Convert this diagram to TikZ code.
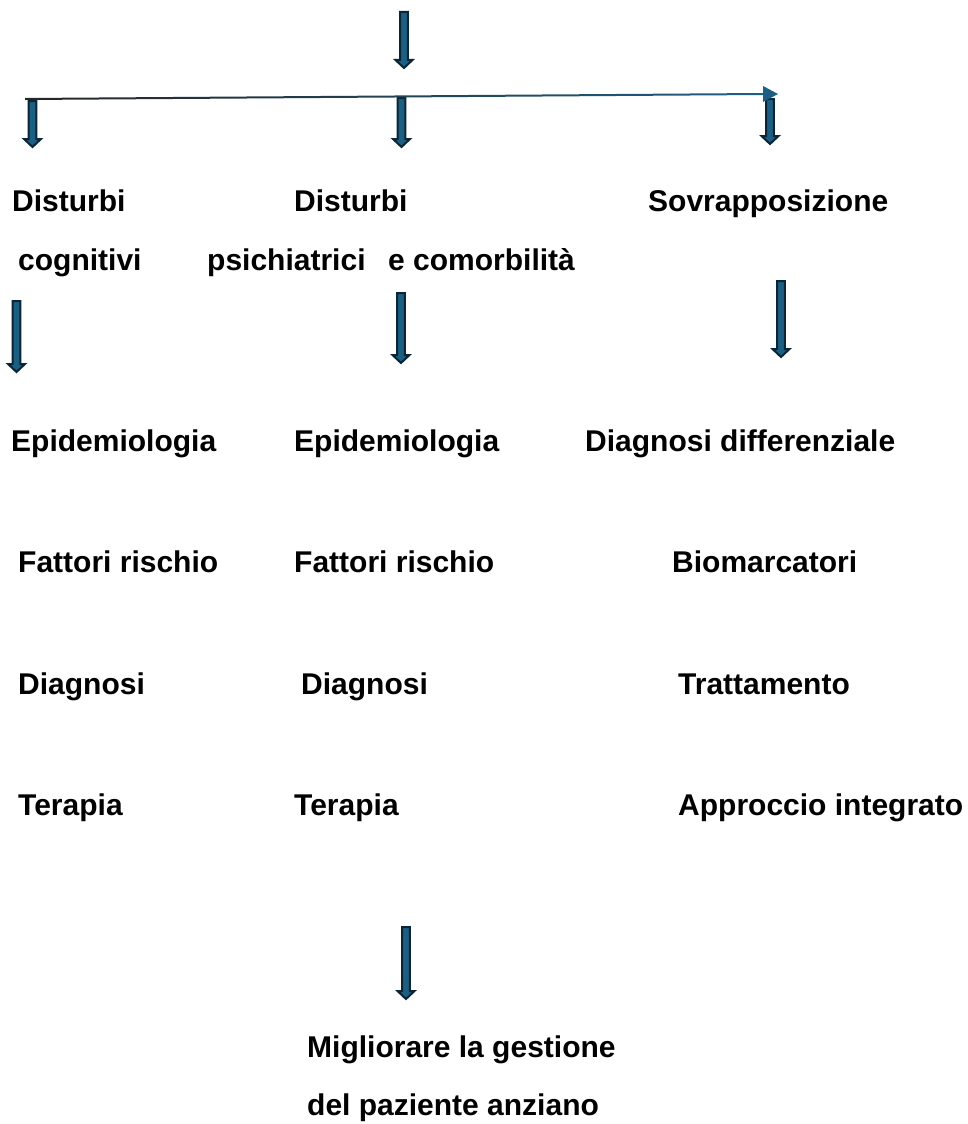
\documentclass[tikz,border=0pt]{standalone}
\usepackage{fontspec}
\setmainfont{Liberation Sans}
\usetikzlibrary{calc}
\definecolor{arrfill}{HTML}{1D5F82}
\definecolor{arrline}{HTML}{0A2536}
\definecolor{hline}{HTML}{1E5F85}
\tikzset{
  lbl/.style={anchor=base west, inner sep=0pt, font=\bfseries\fontsize{30}{32}\selectfont, text=black},
  barrowstyle/.style={fill=arrfill, draw=arrline, line width=2pt, line join=miter},
}
\newcommand{\barrow}[2]{%
  \draw[barrowstyle] ($(#1)+(-3.8,0)$) -- ($(#1)+(3.8,0)$) -- ($(#2)+(3.8,-8)$) -- ($(#2)+(8.5,-8)$) -- (#2) -- ($(#2)+(-8.5,-8)$) -- ($(#2)+(-3.8,-8)$) -- cycle;}
\begin{document}
\begin{tikzpicture}[x=1pt,y=-1pt]
\useasboundingbox (0,0) rectangle (968,1124);
% coordinates
\coordinate (t0s) at (404,12);  \coordinate (t0e) at (404,68);
\coordinate (hl) at (25,99);    \coordinate (hr) at (778,94);
\coordinate (a1s) at (32.5,101); \coordinate (a1e) at (32.5,147);
\coordinate (a2s) at (401.5,98); \coordinate (a2e) at (401.5,147);
\coordinate (a3s) at (770,99);   \coordinate (a3e) at (770,144);
\coordinate (b1s) at (16.5,301); \coordinate (b1e) at (16.5,372);
\coordinate (b2s) at (401,293);  \coordinate (b2e) at (401,363);
\coordinate (b3s) at (781,281);  \coordinate (b3e) at (781,357);
\coordinate (cs) at (406,927);   \coordinate (ce) at (406,999);

% text
\node[lbl] (c1r1) at (12,211) {Disturbi};
\node[lbl] (c1r2) at (18,270) {cognitivi};
\node[lbl] (c2r1) at (294,211) {Disturbi};
\node[lbl] (c2r2) at (207,270) {psichiatrici};
\node[lbl] (c3r2) at (388,270) {e comorbilità};
\node[lbl] (c3r1) at (648,211) {Sovrapposizione};

\node[lbl] (e1) at (11,451) {Epidemiologia};
\node[lbl] (e2) at (294,451) {Epidemiologia};
\node[lbl] (e3) at (585,451) {Diagnosi differenziale};

\node[lbl] (f1) at (18,572) {Fattori rischio};
\node[lbl] (f2) at (294,572) {Fattori rischio};
\node[lbl] (f3) at (672,572) {Biomarcatori};

\node[lbl] (d1) at (18,694) {Diagnosi};
\node[lbl] (d2) at (301,694) {Diagnosi};
\node[lbl] (d3) at (678,694) {Trattamento};

\node[lbl] (g1) at (18,815) {Terapia};
\node[lbl] (g2) at (294,815) {Terapia};
\node[lbl] (g3) at (678,815) {Approccio integrato};

\node[lbl] (m1) at (307,1057) {Migliorare la gestione};
\node[lbl] (m2) at (307,1115) {del paziente anziano};

% arrows
\barrow{t0s}{t0e}
\barrow{a1s}{a1e}
\barrow{a2s}{a2e}
\barrow{a3s}{a3e}
\shade[left color=black!85, right color=hline]
  ($(hl)+(0,-1)$) -- ($(hr)+(-14,-1)$) -- ($(hr)+(-14,1)$) -- ($(hl)+(0,1)$) -- cycle;
\fill[arrfill] (hr) -- ($(hr)+(-15,-8)$) -- ($(hr)+(-15,8)$) -- cycle;
\barrow{b1s}{b1e}
\barrow{b2s}{b2e}
\barrow{b3s}{b3e}
\barrow{cs}{ce}
\end{tikzpicture}
\end{document}
